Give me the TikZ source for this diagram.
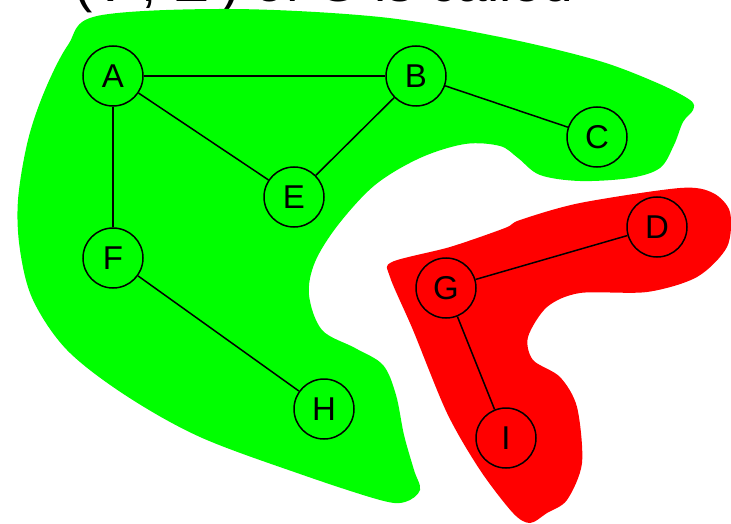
\documentclass[tikz,border=0pt]{standalone}
\usepackage{fontspec}
\setmainfont{Liberation Sans}
\definecolor{blobgreen}{RGB}{0,255,0}
\definecolor{blobred}{RGB}{255,0,0}

\begin{document}
\begin{tikzpicture}[x=1pt, y=-1pt,
  vertex/.style={circle, draw, line width=1.5pt, minimum size=60pt, inner sep=0pt, font=\fontsize{33}{36}\selectfont},
  edge/.style={line width=1.5pt}]
  \useasboundingbox (0,0) rectangle (731,524);
  % cropped caption line
  \node[anchor=base west, inner sep=0pt, font=\fontsize{55}{60}\selectfont] (caption) at (27,1.5) {= (V', E') of G is called};
  % components
  \fill[blobgreen] plot[smooth cycle, tension=0.55] coordinates {
    (97,16) (230,9) (380,17) (500,37) (596,60) (655,82) (690,100) (693,110)
    (683,122) (674,145) (660,168) (630,178) (580,181) (540,175) (518,158)
    (500,146) (465,144) (420,158) (375,185) (338,225) (315,262) (309,295)
    (322,330) (355,348) (383,365) (396,395) (404,435) (414,470) (420,490)
    (405,502) (380,500) (300,474) (200,437) (125,395) (67,350)
    (33,300) (20,250) (18,200) (28,140) (45,90) (68,45)};
  \fill[blobred] plot[smooth cycle, tension=0.5] coordinates {
    (392,262) (450,247) (505,228) (520,220) (580,203) (680,188) (713,193)
    (730,212) (727,247) (697,277) (647,292) (580,293) (547,307) (528,337)
    (533,360) (560,377) (577,407) (582,463) (567,500) (547,513) (530,523)
    (513,513) (480,470) (447,413) (413,330) (390,277)};
  % vertices
  \node[vertex] (A) at (113,76) {A};
  \node[vertex] (B) at (416,76) {B};
  \node[vertex] (C) at (597,137) {C};
  \node[vertex] (E) at (294,197) {E};
  \node[vertex] (F) at (113,258) {F};
  \node[vertex] (H) at (324,409) {H};
  \node[vertex] (D) at (657,227) {D};
  \node[vertex] (G) at (446,288) {G};
  \node[vertex] (I) at (506,438) {I};
  % edges
  \draw[edge] (A) -- (B);
  \draw[edge] (A) -- (E);
  \draw[edge] (A) -- (F);
  \draw[edge] (B) -- (E);
  \draw[edge] (B) -- (C);
  \draw[edge] (F) -- (H);
  \draw[edge] (G) -- (D);
  \draw[edge] (G) -- (I);
\end{tikzpicture}
\end{document}
